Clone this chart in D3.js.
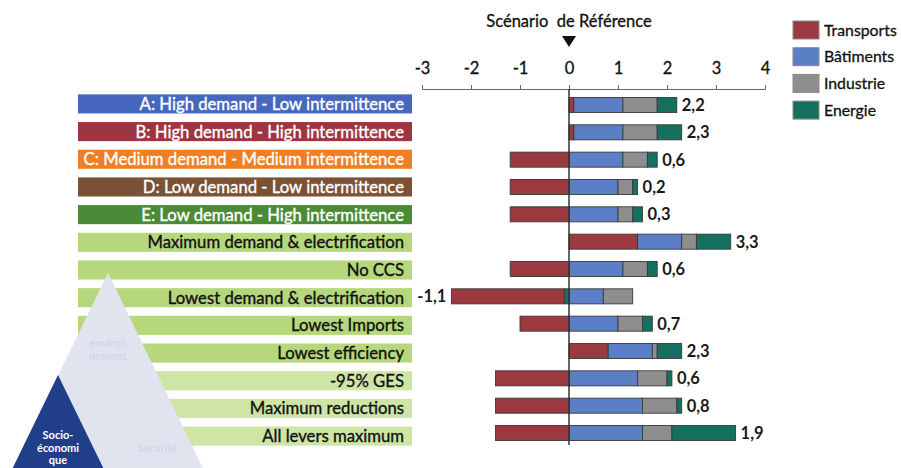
<!DOCTYPE html>
<html>
<head>
<meta charset="utf-8">
<script src="https://cdn.jsdelivr.net/npm/d3@7/dist/d3.min.js"></script>
<style>
  html, body { margin: 0; padding: 0; background: #ffffff; }
  svg { display: block; font-family: Lato, "Open Sans", sans-serif; }
</style>
</head>
<body>
<svg id="chart" width="901" height="468"></svg>
<script>
// Scenario names, top to bottom
const scenarios = [
  "A: High demand - Low intermittence",
  "B: High demand - High intermittence",
  "C: Medium demand - Medium intermittence",
  "D: Low demand - Low intermittence",
  "E: Low demand - High intermittence",
  "Maximum demand & electrification",
  "No CCS",
  "Lowest demand & electrification",
  "Lowest Imports",
  "Lowest efficiency",
  "-95% GES",
  "Maximum reductions",
  "All levers maximum"
];

// Sectors and their contributions per scenario (relative to the reference scenario)
const sectors = ["Transports", "Bâtiments", "Industrie", "Energie"];
const transports = [0.1, 0.1, -1.2, -1.2, -1.2, 1.4, -1.2, -2.3, -1.0, 0.8, -1.5, -1.5, -1.5];
const batiments  = [1.0, 1.0,  1.1,  1.0,  1.0, 0.9,  1.1,  0.7,  1.0, 0.9,  1.4,  1.5,  1.5];
const industrie  = [0.7, 0.7,  0.5,  0.3,  0.3, 0.3,  0.5,  0.6,  0.5, 0.1,  0.6,  0.7,  0.6];
const energie    = [0.4, 0.5,  0.2,  0.1,  0.2, 0.7,  0.2, -0.1,  0.2, 0.5,  0.1,  0.1,  1.3];

const xTicks = [-3, -2, -1, 0, 1, 2, 3, 4];

const sectorColors = {
  "Transports": "#9a3a40",
  "Bâtiments": "#5b7fc6",
  "Industrie": "#8e8e8e",
  "Energie": "#16705f"
};
const labelFills = ["#4767bf", "#9c3641", "#ee7f24", "#7b5235", "#4b8b37",
  "#b6d77c", "#b6d77c", "#b6d77c", "#b6d77c", "#b6d77c", "#cfe5a6", "#cfe5a6", "#cfe5a6"];
const labelText = ["#ffffff", "#ffffff", "#ffffff", "#ffffff", "#ffffff",
  "#111111", "#111111", "#111111", "#111111", "#111111", "#111111", "#111111", "#111111"];

const values = { "Transports": transports, "Bâtiments": batiments, "Industrie": industrie, "Energie": energie };

// Stack: positives grow rightwards in sector order, negatives grow leftwards in reverse order
const rows = scenarios.map((name, i) => {
  const segs = [];
  let pos = 0, neg = 0;
  sectors.forEach(s => {
    const v = values[s][i];
    if (v > 0) { segs.push({ sector: s, x0: pos, x1: pos + v }); pos += v; }
  });
  sectors.slice().reverse().forEach(s => {
    const v = values[s][i];
    if (v < 0) { segs.push({ sector: s, x0: neg + v, x1: neg }); neg += v; }
  });
  const total = sectors.reduce((a, s) => a + values[s][i], 0);
  return { name, i, segs, pos, neg, total: Math.round(total * 10) / 10 };
});

const svg = d3.select("#chart");

const x = d3.scaleLinear().domain([-3, 4]).range([422, 765]);
const yBar = d3.scaleBand().domain(scenarios).range([92, 446]).paddingInner(0.45).paddingOuter(0.2);
const yLab = d3.scaleBand().domain(scenarios).range([90.2, 449.8]).paddingInner(0.31).paddingOuter(0.15);

// Scenario label strips
const lab = svg.append("g");
lab.selectAll("rect").data(rows).join("rect")
  .attr("x", 78).attr("width", 334)
  .attr("y", d => yLab(d.name)).attr("height", yLab.bandwidth())
  .attr("fill", d => labelFills[d.i]);
lab.selectAll("text").data(rows).join("text")
  .attr("x", 404).attr("text-anchor", "end")
  .attr("y", d => yLab(d.name) + yLab.bandwidth() / 2)
  .attr("dy", "0.36em")
  .attr("font-size", 16.7)
  .attr("fill", d => labelText[d.i])
  .attr("stroke", d => labelText[d.i]).attr("stroke-width", 0.35)
  .text(d => d.name);

// Pyramid emblem (environnement / sécurité / socio-économique)
const emb = svg.append("g");
const k = 0.487;
emb.append("path")
  .attr("d", `M108,273 L${108 - 210 * k},483 L${108 + 210 * k},483 Z`)
  .attr("fill", "#dfe4ee");
emb.append("path")
  .attr("d", `M58,375 L${58 - 108 * k},483 L${58 + 108 * k},483 Z`)
  .attr("fill", "#213f88");
emb.append("text").attr("x", 108).attr("y", 347).attr("text-anchor", "middle")
  .attr("font-size", 11).attr("font-weight", 700).attr("fill", "#cfd7e9").text("environ");
emb.append("text").attr("x", 108).attr("y", 360).attr("text-anchor", "middle")
  .attr("font-size", 11).attr("font-weight", 700).attr("fill", "#cfd7e9").text("nement");
emb.append("text").attr("x", 157).attr("y", 452).attr("text-anchor", "middle")
  .attr("font-size", 11).attr("font-weight", 700).attr("fill", "#cfd7e9").text("Sécurité");
["Socio-", "économi", "que"].forEach((t, j) => {
  emb.append("text").attr("x", 58).attr("y", 439 + j * 12.5).attr("text-anchor", "middle")
    .attr("font-size", 11).attr("font-weight", 700).attr("fill", "#ffffff").text(t);
});

// Top axis
const axis = svg.append("g").attr("transform", "translate(0,89)")
  .call(d3.axisTop(x).tickValues(xTicks).tickSize(4).tickSizeOuter(4).tickPadding(11).tickFormat(d => String(d)));
axis.select(".domain").attr("stroke", "#666");
axis.selectAll(".tick line").attr("stroke", "#666");
axis.selectAll(".tick text").attr("font-size", 16.5).attr("fill", "#111")
  .attr("stroke", "#111").attr("stroke-width", 0.3).attr("font-family", "Lato, sans-serif");

// Title and reference marker
svg.append("text").attr("x", 569).attr("y", 27).attr("text-anchor", "middle")
  .attr("font-size", 16.5).attr("fill", "#111").attr("stroke", "#111").attr("stroke-width", 0.3)
  .attr("xml:space", "preserve")
  .text("Scénario  de Référence");
svg.append("path")
  .attr("d", `M${x(0) - 7},36 L${x(0) + 7},36 L${x(0)},47 Z`)
  .attr("fill", "#111");

// Stacked bars
const bars = svg.append("g");
rows.forEach(r => {
  bars.append("g").selectAll("rect").data(r.segs).join("rect")
    .attr("x", d => x(d.x0))
    .attr("width", d => x(d.x1) - x(d.x0))
    .attr("y", yBar(r.name))
    .attr("height", yBar.bandwidth())
    .attr("fill", d => sectorColors[d.sector])
    .attr("stroke", "#3a3a3a").attr("stroke-width", 0.9);
});

// Total labels
const fmt = v => d3.format(".1f")(v).replace(".", ",").replace("−", "-");
svg.append("g").selectAll("text").data(rows).join("text")
  .attr("x", d => d.total < 0 ? x(d.neg) - 5 : x(d.pos) + 5)
  .attr("text-anchor", d => d.total < 0 ? "end" : "start")
  .attr("y", d => yBar(d.name) + yBar.bandwidth() / 2)
  .attr("dy", "0.36em")
  .attr("font-size", 16.5).attr("font-weight", 700).attr("fill", "#1a1a1a")
  .text(d => fmt(d.total));

// Zero line
svg.append("line")
  .attr("x1", x(0)).attr("x2", x(0)).attr("y1", 89).attr("y2", 445)
  .attr("stroke", "#333").attr("stroke-width", 1.5);

// Legend
const leg = svg.append("g");
sectors.forEach((s, j) => {
  const yy = 21 + j * 26.7;
  leg.append("rect").attr("x", 793).attr("y", yy).attr("width", 26).attr("height", 18)
    .attr("fill", sectorColors[s]).attr("stroke", "#8a8a8a").attr("stroke-width", 1);
  leg.append("text").attr("x", 824).attr("y", yy + 9).attr("dy", "0.36em")
    .attr("font-size", 15.8).attr("fill", "#111").attr("stroke", "#111").attr("stroke-width", 0.3)
    .text(s);
});
</script>
</body>
</html>
